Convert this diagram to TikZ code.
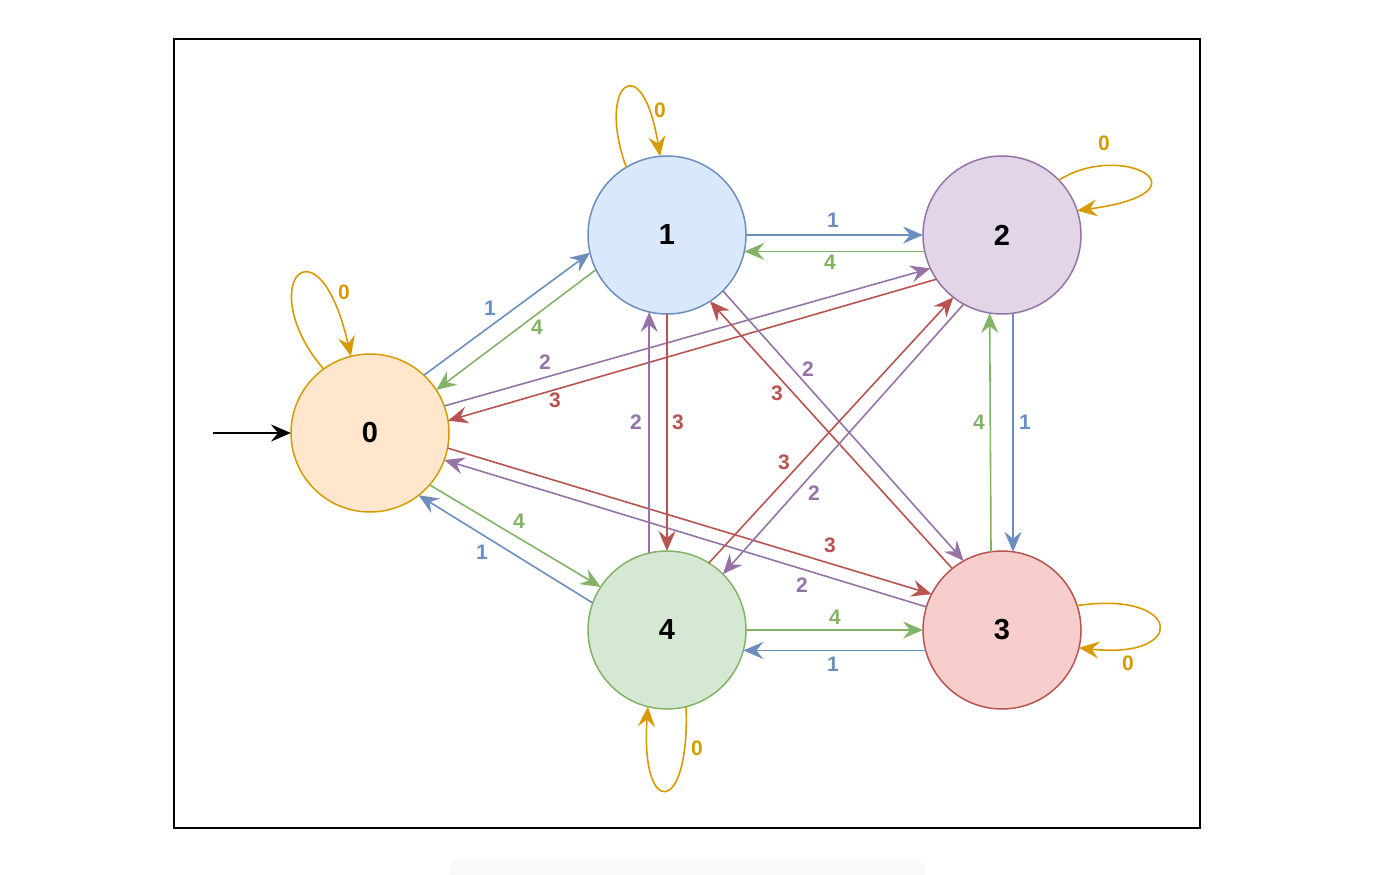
\documentclass[tikz,border=0pt]{standalone}
\usepackage{fontspec}
\setmainfont{Liberation Sans}
\usetikzlibrary{arrows.meta}
\definecolor{fA}{HTML}{FFE6CC}\definecolor{sA}{HTML}{D79B00}
\definecolor{fB}{HTML}{DAE8FC}\definecolor{sB}{HTML}{6C8EBF}
\definecolor{fC}{HTML}{E1D5E7}\definecolor{sC}{HTML}{9673A6}
\definecolor{fD}{HTML}{F8CECC}\definecolor{sD}{HTML}{B85450}
\definecolor{fE}{HTML}{D5E8D4}\definecolor{sE}{HTML}{82B366}
\definecolor{faint}{HTML}{F8F9FA}
\tikzset{tipstyle/.tip={Stealth[length=20pt,width=17pt,inset=7pt]}}
\begin{document}
\begin{tikzpicture}[x=1pt,y=-1pt,
  state/.style={circle, minimum size=158pt, inner sep=0pt, outer sep=0pt, line width=1.5pt, font=\bfseries\fontsize{29}{31}\selectfont},
  conn/.style={line width=1.6pt, -tipstyle},
  lbl/.style={font=\bfseries\fontsize{21}{23}\selectfont, inner sep=0pt}]
\useasboundingbox (0,0) rectangle (1400,875);
\fill[faint, rounded corners=6pt] (449,861) rectangle (925,890);
\draw[line width=1.5pt] (174,39) rectangle (1200,828);

\node[state, draw=sA, fill=fA] (n0) at (370,433) {0};
\node[state, draw=sB, fill=fB] (n1) at (667,235) {1};
\node[state, draw=sC, fill=fC] (n2) at (1002,235) {2};
\node[state, draw=sD, fill=fD] (n3) at (1002,630) {3};
\node[state, draw=sE, fill=fE] (n4) at (667,630) {4};
\coordinate (start) at (213,433);

\draw[conn, black] (start) -- (n0.180);

% from/to 0
\draw[conn, sB] (n0.47) -- (n1.193);
\draw[conn, sE] (n1.206) -- (n0.33);
\draw[conn, sC] (n0.20) -- (n2.205);
\draw[conn, sD] (n2.214) -- (n0.9);
\draw[conn, sD] (n0.349) -- (n3.153);
\draw[conn, sC] (n3.163) -- (n0.340);
\draw[conn, sE] (n0.319) -- (n4.147);
\draw[conn, sB] (n4.160) -- (n0.308);
% others
\draw[conn, sB] (n1.0) -- (n2.180);
\draw[conn, sE] (n2.192) -- (n1.348);
\draw[conn, sD] (n1.270) -- (n4.90);
\draw[conn, sC] (n4.103) -- (n1.257);
\draw[conn, sC] (n1.315) -- (n3.119);
\draw[conn, sD] (n3.129) -- (n1.303);
\draw[conn, sB] (n2.278) -- (n3.82);
\draw[conn, sE] (n3.98) -- (n2.261);
\draw[conn, sD] (n4.58) -- (n2.232);
\draw[conn, sC] (n2.241) -- (n4.45);
\draw[conn, sE] (n4.0) -- (n3.180);
\draw[conn, sB] (n3.195) -- (n4.345);
% self loops
\draw[conn, sA] (n0.126) .. controls (252,285) and (318,212) .. (n0.104);
\draw[conn, sA] (n1.121) .. controls (596,85) and (642,45) .. (n1.95);
\draw[conn, sA] (n2.44) .. controls (1122,140) and (1215,192) .. (n2.18);
\draw[conn, sA] (n3.18) .. controls (1183,590) and (1188,660) .. (n3.347);
\draw[conn, sA] (n4.284) .. controls (690,818) and (640,818) .. (n4.256);

% labels
\node[lbl, sB] (l01) at (490,308) {1};
\node[lbl, sE] (l10) at (537,327) {4};
\node[lbl, sC] (l02) at (545,362) {2};
\node[lbl, sD] (l20) at (555,400) {3};
\node[lbl, sD] (l03) at (830,545) {3};
\node[lbl, sC] (l30) at (802,585) {2};
\node[lbl, sE] (l04) at (519,521) {4};
\node[lbl, sB] (l40) at (482,552) {1};
\node[lbl, sB] (l12) at (833,220) {1};
\node[lbl, sE] (l21) at (830,262) {4};
\node[lbl, sD] (l14) at (678,422) {3};
\node[lbl, sC] (l41) at (636,422) {2};
\node[lbl, sC] (l13) at (808,369) {2};
\node[lbl, sD] (l31) at (777,393) {3};
\node[lbl, sB] (l23) at (1025,422) {1};
\node[lbl, sE] (l32) at (979,422) {4};
\node[lbl, sD] (l42) at (784,462) {3};
\node[lbl, sC] (l24) at (814,493) {2};
\node[lbl, sE] (l43) at (835,617) {4};
\node[lbl, sB] (l34) at (833,664) {1};
\node[lbl, sA] (l00) at (344,292) {0};
\node[lbl, sA] (l11) at (660,110) {0};
\node[lbl, sA] (l22) at (1104,143) {0};
\node[lbl, sA] (l33) at (1128,663) {0};
\node[lbl, sA] (l44) at (697,748) {0};
\end{tikzpicture}
\end{document}
